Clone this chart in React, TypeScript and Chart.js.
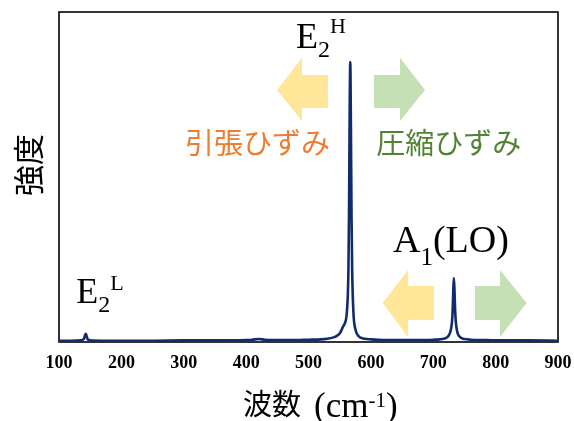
import React, { useEffect, useRef } from "react";
import { Chart, registerables } from "chart.js";

Chart.register(...registerables);

// Raman spectrum: wavenumber (cm-1) and relative intensity
const wavenumber = [
  100, 120, 135, 140, 142, 143, 144, 146, 150, 170, 200, 250, 300, 350, 400,
  410, 420, 430, 440, 480, 500, 520, 530, 540, 545, 550, 553, 555, 557, 559,
  561, 563, 564, 565, 566, 567, 568, 569, 570, 572, 575, 580, 590, 600, 620,
  650, 680, 700, 710, 720, 725, 728, 730, 731, 732, 733, 734, 735, 736, 738,
  740, 745, 750, 760, 780, 800, 850, 900,
];
const intensity = [
  0.004, 0.004, 0.005, 0.01, 0.022, 0.025, 0.02, 0.008, 0.005, 0.004, 0.004,
  0.004, 0.005, 0.005, 0.006, 0.007, 0.009, 0.007, 0.006, 0.006, 0.007, 0.008,
  0.01, 0.014, 0.018, 0.026, 0.036, 0.045, 0.052, 0.06, 0.08, 0.14, 0.22, 0.4,
  0.7, 0.848, 0.65, 0.38, 0.22, 0.09, 0.04, 0.018, 0.01, 0.008, 0.006, 0.006,
  0.006, 0.007, 0.008, 0.012, 0.02, 0.035, 0.06, 0.09, 0.15, 0.194, 0.16, 0.1,
  0.065, 0.035, 0.022, 0.012, 0.009, 0.007, 0.006, 0.005, 0.005, 0.004,
];
const xTickValues = [100, 200, 300, 400, 500, 600, 700, 800, 900];

const SERIF = '"Liberation Serif", "Times New Roman", serif';
const CJK = '"Noto Sans CJK JP", "Noto Sans", sans-serif';

// Peak assignments: anchor in data units (left edge, baseline), runs laid out in sequence
type Run = { text: string; size: number; dy: number };
const peakLabels: { x: number; y: number; runs: Run[] }[] = [
  { x: 480, y: 0.891, runs: [{ text: "E", size: 36, dy: 0 }, { text: "2", size: 24, dy: 9 }, { text: "H", size: 22, dy: -15 }] },
  { x: 635.5, y: 0.2727, runs: [{ text: "A", size: 38, dy: 0 }, { text: "1", size: 25, dy: 13 }, { text: "(LO)", size: 38, dy: 0 }] },
  { x: 127.5, y: 0.118, runs: [{ text: "E", size: 36, dy: 0 }, { text: "2", size: 24, dy: 9 }, { text: "L", size: 22, dy: -13 }] },
];

// Block arrows marking shift direction (data units)
const arrows = [
  { tip: 449.5, head: 489.6, tail: 531.3, yc: 0.764, headTop: 0.861, headBot: 0.67, shaftTop: 0.809, shaftBot: 0.709, color: "#FFE699" },
  { tip: 686.8, head: 646.7, tail: 605, yc: 0.764, headTop: 0.861, headBot: 0.67, shaftTop: 0.809, shaftBot: 0.709, color: "#C5E0B4" },
  { tip: 619, head: 659.5, tail: 701.2, yc: 0.118, headTop: 0.218, headBot: 0.015, shaftTop: 0.17, shaftBot: 0.067, color: "#FFE699" },
  { tip: 849.8, head: 807, tail: 767, yc: 0.118, headTop: 0.218, headBot: 0.015, shaftTop: 0.17, shaftBot: 0.067, color: "#C5E0B4" },
];

const strainLabels = [
  { text: "引張ひずみ", x: 418.2, y: 0.6045, color: "#ED7D31" },
  { text: "圧縮ひずみ", x: 724.8, y: 0.6045, color: "#548235" },
];

const decorations = {
  id: "decorations",
  beforeDatasetsDraw(chart: any) {
    const { ctx, chartArea, scales } = chart;
    const xs = scales.x;
    const ys = scales.y;
    ctx.save();
    // arrows
    for (const a of arrows) {
      ctx.fillStyle = a.color;
      ctx.beginPath();
      ctx.moveTo(xs.getPixelForValue(a.tip), ys.getPixelForValue(a.yc));
      ctx.lineTo(xs.getPixelForValue(a.head), ys.getPixelForValue(a.headTop));
      ctx.lineTo(xs.getPixelForValue(a.head), ys.getPixelForValue(a.shaftTop));
      ctx.lineTo(xs.getPixelForValue(a.tail), ys.getPixelForValue(a.shaftTop));
      ctx.lineTo(xs.getPixelForValue(a.tail), ys.getPixelForValue(a.shaftBot));
      ctx.lineTo(xs.getPixelForValue(a.head), ys.getPixelForValue(a.shaftBot));
      ctx.lineTo(xs.getPixelForValue(a.head), ys.getPixelForValue(a.headBot));
      ctx.closePath();
      ctx.fill();
    }
    // plot frame
    ctx.strokeStyle = "#000";
    ctx.lineWidth = 1.6;
    ctx.strokeRect(chartArea.left, chartArea.top, chartArea.right - chartArea.left, chartArea.bottom - chartArea.top);
    ctx.restore();
  },
  afterDraw(chart: any) {
    const { ctx, scales } = chart;
    const xs = scales.x;
    const ys = scales.y;
    ctx.save();
    ctx.fillStyle = "#000";
    // peak labels
    ctx.textAlign = "left";
    ctx.textBaseline = "alphabetic";
    for (const l of peakLabels) {
      let px = xs.getPixelForValue(l.x);
      const py = ys.getPixelForValue(l.y);
      for (const r of l.runs) {
        ctx.font = `${r.size}px ${SERIF}`;
        ctx.fillText(r.text, px, py + r.dy);
        px += ctx.measureText(r.text).width;
      }
    }
    // strain labels
    ctx.textAlign = "center";
    ctx.textBaseline = "middle";
    ctx.font = `29px ${CJK}`;
    for (const s of strainLabels) {
      ctx.fillStyle = s.color;
      ctx.fillText(s.text, xs.getPixelForValue(s.x), ys.getPixelForValue(s.y));
    }
    // y-axis title
    ctx.fillStyle = "#000";
    ctx.save();
    ctx.translate(28, 165);
    ctx.rotate(-Math.PI / 2);
    ctx.font = `31px ${CJK}`;
    ctx.fillText("強度", 0, 0);
    ctx.restore();
    // x-axis title
    ctx.textAlign = "left";
    ctx.textBaseline = "middle";
    ctx.font = `29px ${CJK}`;
    ctx.fillText("波数", 243, 403.5);
    ctx.textBaseline = "alphabetic";
    let tx = 314;
    const base = 416.5;
    ctx.font = `35px ${SERIF}`;
    ctx.fillText("(cm", tx, base);
    tx += ctx.measureText("(cm").width;
    ctx.font = `21px ${SERIF}`;
    ctx.fillText("-1", tx, base - 10);
    tx += ctx.measureText("-1").width;
    ctx.font = `35px ${SERIF}`;
    ctx.fillText(")", tx, base);
    ctx.restore();
  },
};

export default function App() {
  const canvasRef = useRef<HTMLCanvasElement | null>(null);

  useEffect(() => {
    document.body.style.margin = "0";
    const canvas = canvasRef.current;
    if (!canvas) return;
    const chart = new Chart(canvas, {
      type: "line",
      data: {
        datasets: [
          {
            data: wavenumber.map((w, i) => ({ x: w, y: intensity[i] })),
            borderColor: "#112B6E",
            borderWidth: 2.6,
            pointRadius: 0,
            cubicInterpolationMode: "monotone",
            fill: false,
          },
        ],
      },
      options: {
        animation: false,
        responsive: false,
        devicePixelRatio: 1,
        layout: { padding: { left: 59, right: 16, top: 12, bottom: 0 } },
        plugins: { legend: { display: false }, tooltip: { enabled: false } },
        scales: {
          x: {
            type: "linear",
            min: 100,
            max: 900,
            grid: { display: false, drawTicks: false },
            border: { display: false },
            afterBuildTicks: (scale: any) => {
              scale.ticks = xTickValues.map((v) => ({ value: v }));
            },
            afterFit: (scale: any) => {
              scale.height = 79;
              scale.paddingLeft = 0;
              scale.paddingRight = 0;
            },
            ticks: {
              autoSkip: false,
              maxRotation: 0,
              padding: 11,
              color: "#000",
              font: { family: SERIF, size: 18, weight: "bold" },
              callback: (v: any) => String(v),
            },
          },
          y: {
            display: false,
            min: 0,
            max: 1,
          },
        },
      },
      plugins: [decorations],
    });
    return () => chart.destroy();
  }, []);

  return (
    <div style={{ width: 574, height: 421, background: "#fff" }}>
      <canvas ref={canvasRef} width={574} height={421} style={{ display: "block" }} />
    </div>
  );
}
